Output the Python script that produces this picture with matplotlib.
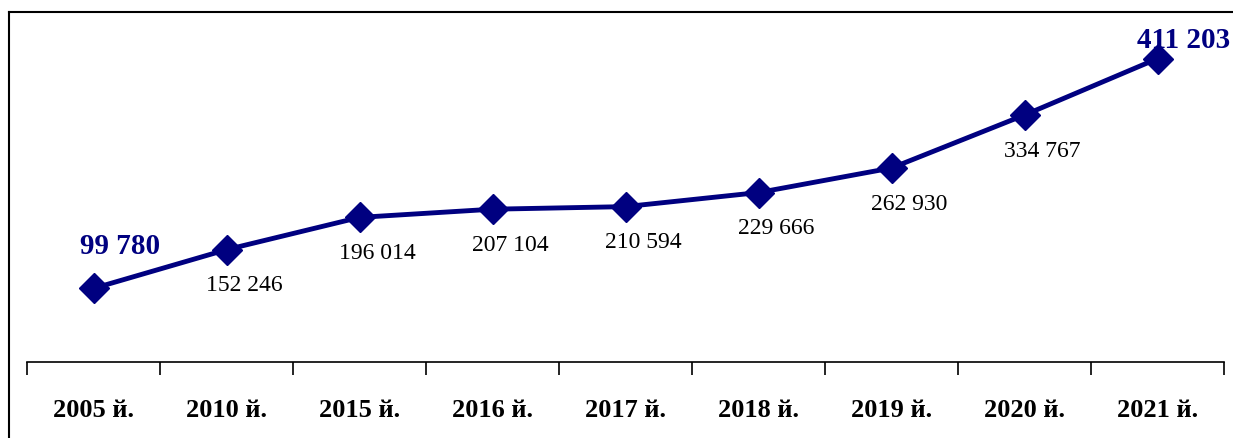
import matplotlib.pyplot as plt
from matplotlib.lines import Line2D

# data
years = ['2005 й.', '2010 й.', '2015 й.', '2016 й.', '2017 й.',
         '2018 й.', '2019 й.', '2020 й.', '2021 й.']
values = [99780, 152246, 196014, 207104, 210594, 229666, 262930, 334767, 411203]

def fmt(v):
    return f'{v:,}'.replace(',', ' ')

W, H = 1233, 439
fig = plt.figure(figsize=(W / 100, H / 100), dpi=100)
ax = fig.add_axes([27 / W, (H - 363) / H, (1224 - 27) / W, (363 - 31) / H])

navy = '#000080'
x = list(range(len(years)))
ax.plot(x, values, color=navy, lw=3.5, marker='D', markersize=15, zorder=3)

ax.set_xlim(-0.5, len(years) - 0.5)
ax.set_ylim(0, 450000)

# category separators as ticks
ax.set_xticks([i - 0.5 for i in range(len(years) + 1)], minor=False)
ax.set_xticklabels([])
ax.set_xticks(x, minor=True)
ax.set_xticklabels(years, minor=True, fontfamily='Liberation Serif',
                   fontweight='bold', fontsize=19)
ax.tick_params(axis='x', which='major', length=9, width=1.2, direction='out')
ax.tick_params(axis='x', which='minor', length=0, pad=26)
ax.set_yticks([])
for s in ['top', 'right', 'left']:
    ax.spines[s].set_visible(False)
ax.spines['bottom'].set_linewidth(1.2)

# data labels
for i, v in enumerate(values):
    if i == 0:
        ax.annotate(fmt(v), (i, v), xytext=(27, 43), textcoords='offset pixels',
                    ha='center', va='center', fontfamily='Liberation Serif',
                    fontweight='bold', fontsize=21, color=navy)
    elif i == len(values) - 1:
        ax.annotate(fmt(v), (i, v), xytext=(26, 19), textcoords='offset pixels',
                    ha='center', va='center', fontfamily='Liberation Serif',
                    fontweight='bold', fontsize=21, color=navy)
    else:
        ax.annotate(fmt(v), (i, v), xytext=(18, -35), textcoords='offset pixels',
                    ha='center', va='center', fontfamily='Liberation Serif',
                    fontsize=17, color='black')

# outer frame (top and left edges visible)
fig.add_artist(Line2D([9 / W, 9 / W], [0, (H - 13) / H], color='black', lw=1.5))
fig.add_artist(Line2D([9 / W, 1], [(H - 13) / H, (H - 13) / H], color='black', lw=1.5))

fig.savefig('out.png', dpi=100)
